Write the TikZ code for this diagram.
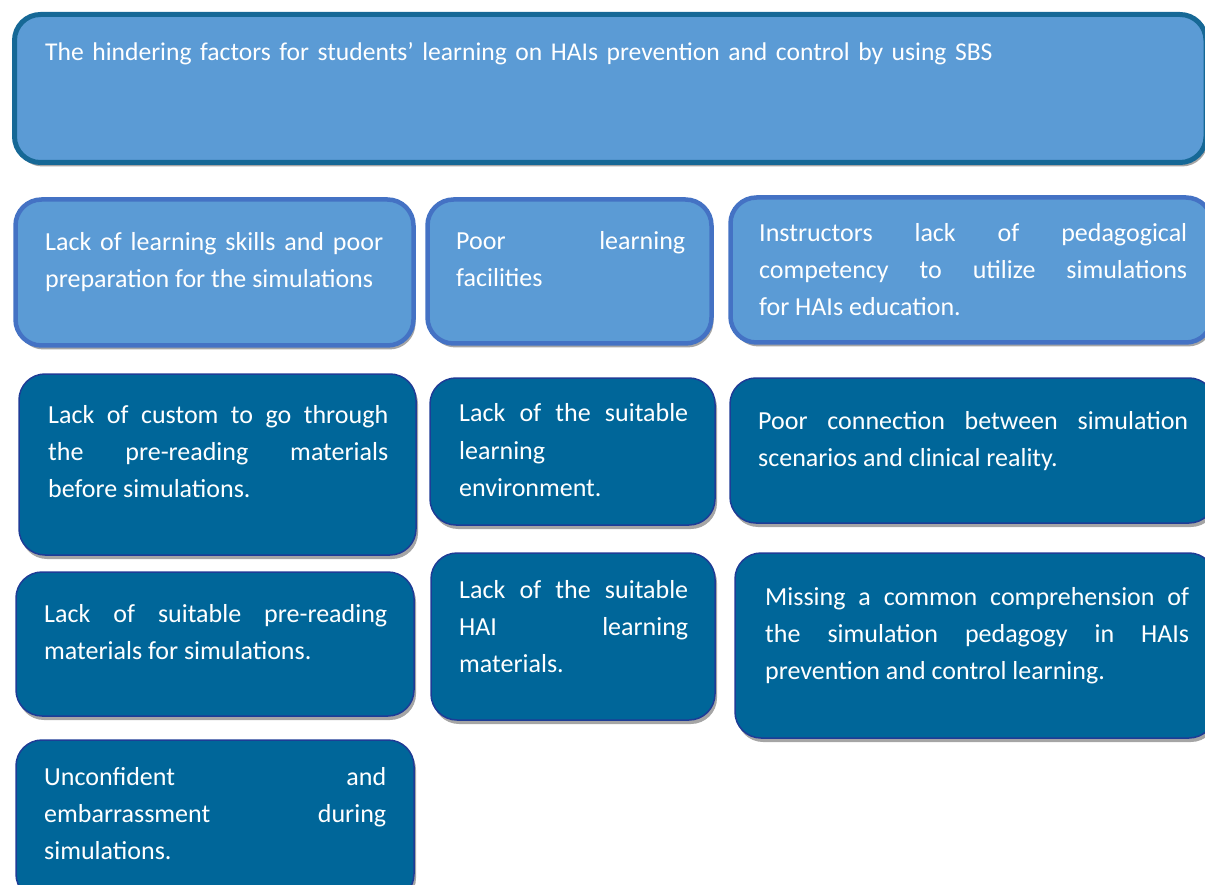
\documentclass[tikz,border=0pt]{standalone}
\usepackage{fontspec}
\setmainfont{Carlito}
\usetikzlibrary{shadows}
\definecolor{lightfill}{RGB}{91,155,213}
\definecolor{titleline}{RGB}{22,104,150}
\definecolor{lightline}{RGB}{68,114,196}
\definecolor{darkfill}{RGB}{0,102,153}
\definecolor{darkline}{RGB}{30,60,150}
\definecolor{shadowgray}{RGB}{165,165,165}
\tikzset{
  shadowed/.style={rounded corners=26pt, drop shadow={shadow xshift=2pt, shadow yshift=-4pt, fill=shadowgray, opacity=1}},
  titlebox/.style={shadowed, draw=titleline, line width=5pt, fill=lightfill},
  lightbox/.style={shadowed, draw=lightline, line width=4.5pt, fill=lightfill},
  darkbox/.style={shadowed, draw=darkline, line width=1.5pt, fill=darkfill},
  boxtext/.style={anchor=north west, inner sep=0pt, text=white, align=justify,
    font=\fontsize{26}{37.3}\selectfont, execute at begin node={\noindent\strut}},
}
\begin{document}
\begin{tikzpicture}[x=1pt, y=-1pt]
  \useasboundingbox (0,0) rectangle (1205,885);
  % boxes
  \draw[titlebox] (14.5,14.5) rectangle (1206,162.5);
  \draw[lightbox] (15.5,199.5) rectangle (413.5,345.5);
  \draw[lightbox] (427.5,199.5) rectangle (711.5,343.5);
  \draw[lightbox] (730.5,197.5) rectangle (1212,342.5);
  \draw[darkbox] (19,374) rectangle (416,555);
  \draw[darkbox] (430,378) rectangle (715,525);
  \draw[darkbox] (730,378) rectangle (1215,523);
  \draw[darkbox] (16,572) rectangle (414,716);
  \draw[darkbox] (431,553) rectangle (715,720);
  \draw[darkbox] (735,553) rectangle (1215,738);
  \draw[darkbox] (16,740) rectangle (414,900);
  % texts
  \node[boxtext, text width=1150pt, align=left, font=\fontsize{25.6}{37.3}\selectfont] (title) at (45,34.4)
    {The hindering factors for students’ learning on HAIs prevention and control by using SBS};
  \node[boxtext, text width=338pt] (skills) at (45,223.9)
    {Lack of learning skills and poor\linebreak preparation for the simulations};
  \node[boxtext, text width=229pt] (facilities) at (456,222.9)
    {Poor learning\linebreak facilities};
  \node[boxtext, text width=428pt] (competency) at (759,214.9)
    {Instructors lack of pedagogical\linebreak competency to utilize simulations\linebreak for HAIs education.};
  \node[boxtext, text width=340pt] (custom) at (48,396.9)
    {Lack of custom to go through\linebreak the pre-reading materials\linebreak before simulations.};
  \node[boxtext, text width=229pt] (environment) at (459,395.4)
    {Lack of the suitable\linebreak learning\linebreak environment.};
  \node[boxtext, text width=430pt] (connection) at (758,402.9)
    {Poor connection between simulation\linebreak scenarios and clinical reality.};
  \node[boxtext, text width=343pt] (prereading) at (44,595.9)
    {Lack of suitable pre-reading\linebreak materials for simulations.};
  \node[boxtext, text width=229pt] (materials) at (459,571.9)
    {Lack of the suitable\linebreak HAI learning\linebreak materials.};
  \node[boxtext, text width=424pt] (pedagogy) at (765,578.9)
    {Missing a common comprehension of\linebreak the simulation pedagogy in HAIs\linebreak prevention and control learning.};
  \node[boxtext, text width=342pt] (confidence) at (44,758.9)
    {Unconfident and\linebreak embarrassment during\linebreak simulations.};
\end{tikzpicture}
\end{document}
